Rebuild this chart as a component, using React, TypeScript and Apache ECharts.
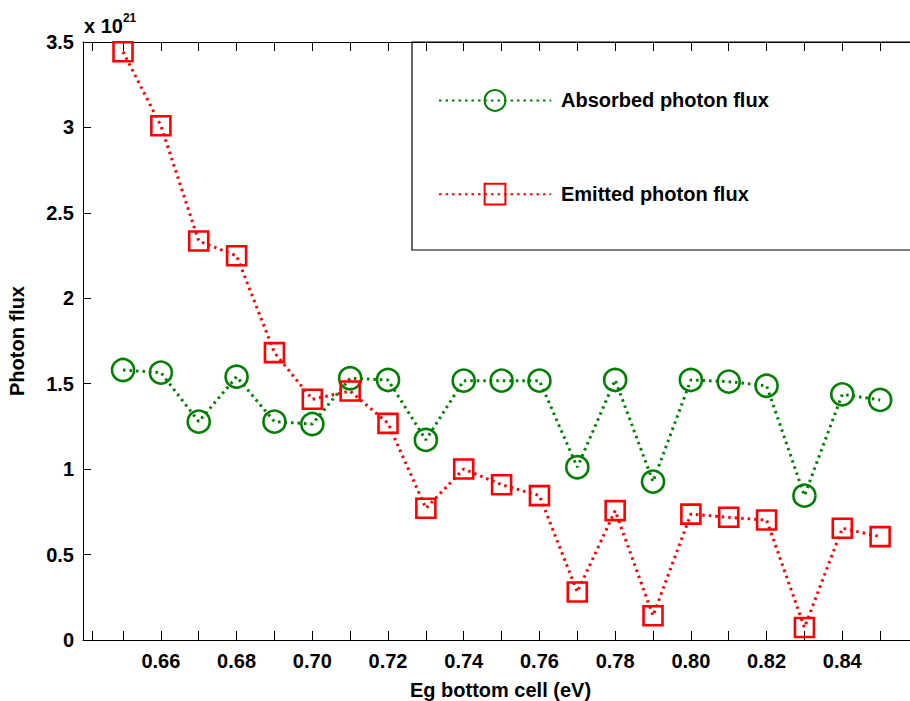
import React, { useEffect, useRef } from "react";
import * as echarts from "echarts";

// Bottom-cell band gap (eV)
const energies = [
  0.65, 0.66, 0.67, 0.68, 0.69, 0.7, 0.71, 0.72, 0.73, 0.74, 0.75,
  0.76, 0.77, 0.78, 0.79, 0.8, 0.81, 0.82, 0.83, 0.84, 0.85,
];

// Photon flux, in units of 1e21
const absorbedFlux = [
  1.58, 1.565, 1.278, 1.541, 1.278, 1.264, 1.532, 1.522, 1.171, 1.518, 1.518,
  1.518, 1.011, 1.522, 0.927, 1.522, 1.512, 1.488, 0.845, 1.438, 1.405,
];
const emittedFlux = [
  3.443, 3.01, 2.335, 2.249, 1.682, 1.409, 1.457, 1.268, 0.771, 1.001, 0.909,
  0.845, 0.281, 0.757, 0.142, 0.737, 0.718, 0.702, 0.073, 0.654, 0.605,
];

const xTickValues = [
  0.6419, 0.65, 0.66, 0.67, 0.68, 0.69, 0.7, 0.71, 0.72, 0.73, 0.74, 0.75,
  0.76, 0.77, 0.78, 0.79, 0.8, 0.81, 0.82, 0.83, 0.84, 0.85,
];
const xLabelValues = [0.66, 0.68, 0.7, 0.72, 0.74, 0.76, 0.78, 0.8, 0.82, 0.84];

const seriesNames = ["Absorbed photon flux", "Emitted photon flux"];

const FONT = "'Liberation Sans', Arial, Helvetica, sans-serif";
const GREEN = "#008000";
const RED = "#ff0000";

export default function App() {
  const ref = useRef<HTMLDivElement>(null);

  useEffect(() => {
    if (!ref.current) return;
    const chart = echarts.init(ref.current, null, { renderer: "svg" });

    const pairs = (ys: number[]) => energies.map((x, i) => [x, ys[i]]);
    const dotted = (color: string) => ({
      color,
      width: 3,
      type: [2.5, 4] as number[],
    });

    const axisLine = { show: true, lineStyle: { color: "#000", width: 1 } };
    const tickStyle = { color: "#000", width: 1 };

    chart.setOption({
      animation: false,
      backgroundColor: "#fff",
      grid: {
        left: 83,
        right: 0,
        top: 42,
        bottom: 61,
        containLabel: false,
        outerBoundsMode: "none",
      },
      xAxis: [
        {
          type: "value",
          min: 0.63943,
          max: 0.86,
          position: "bottom",
          axisLine,
          splitLine: { show: false },
          axisTick: {
            show: true,
            inside: true,
            length: 9,
            lineStyle: tickStyle,
            customValues: xTickValues,
          },
          axisLabel: {
            customValues: xLabelValues,
            formatter: (v: number) => v.toFixed(2),
            color: "#000",
            fontFamily: FONT,
            fontWeight: "bold",
            fontSize: 20,
            margin: 11,
          },
          name: "Eg bottom cell (eV)",
          nameLocation: "middle",
          nameGap: 40,
          nameTextStyle: {
            color: "#000",
            fontFamily: FONT,
            fontWeight: "bold",
            fontSize: 20,
          },
        },
        {
          type: "value",
          min: 0.63943,
          max: 0.86,
          position: "top",
          axisLine,
          splitLine: { show: false },
          axisTick: {
            show: true,
            inside: true,
            length: 9,
            lineStyle: tickStyle,
            customValues: xTickValues,
          },
          axisLabel: { show: false },
        },
      ],
      yAxis: {
        type: "value",
        min: 0,
        max: 3.5,
        interval: 0.5,
        axisLine,
        splitLine: { show: false },
        axisTick: { show: true, inside: true, length: 8, lineStyle: tickStyle },
        axisLabel: {
          formatter: (v: number) => String(v),
          color: "#000",
          fontFamily: FONT,
          fontWeight: "bold",
          fontSize: 20,
          margin: 9,
        },
        name: "Photon flux",
        nameLocation: "middle",
        nameGap: 56,
        nameTextStyle: {
          color: "#000",
          fontFamily: FONT,
          fontWeight: "bold",
          fontSize: 20,
        },
      },
      legend: {
        orient: "vertical",
        left: 433,
        top: 84,
        itemWidth: 112,
        itemHeight: 26,
        itemGap: 71,
        data: seriesNames,
        textStyle: {
          color: "#000",
          fontFamily: FONT,
          fontWeight: "bold",
          fontSize: 20,
          padding: [0, 0, 0, 5],
        },
      },
      graphic: [
        {
          type: "rect",
          shape: { x: 412, y: 42, width: 600, height: 208 },
          style: { fill: "none", stroke: "#000", lineWidth: 1.2 },
          silent: true,
          z: 10,
        },
        {
          type: "text",
          x: 84,
          y: 12,
          style: {
            text: "{b|x 10}{s|21}",
            rich: {
              b: {
                fontFamily: FONT,
                fontWeight: "bold",
                fontSize: 20,
                fill: "#000",
                verticalAlign: "bottom",
              },
              s: {
                fontFamily: FONT,
                fontWeight: "bold",
                fontSize: 12,
                fill: "#000",
                verticalAlign: "top",
                padding: [0, 0, 12, 0],
              },
            },
          },
        },
      ],
      series: [
        {
          name: seriesNames[0],
          type: "line",
          xAxisIndex: 0,
          data: pairs(absorbedFlux),
          symbol: "circle",
          symbolSize: 22,
          lineStyle: dotted(GREEN),
          itemStyle: {
            color: "rgba(0,0,0,0)",
            borderColor: GREEN,
            borderWidth: 2.6,
          },
          emphasis: { disabled: true },
          z: 3,
        },
        {
          name: seriesNames[1],
          type: "line",
          xAxisIndex: 0,
          data: pairs(emittedFlux),
          symbol: "rect",
          symbolSize: 19,
          lineStyle: dotted(RED),
          itemStyle: {
            color: "rgba(0,0,0,0)",
            borderColor: RED,
            borderWidth: 2.6,
          },
          emphasis: { disabled: true },
          z: 4,
        },
      ],
    });

    return () => chart.dispose();
  }, []);

  // The plot frame runs a little past the right edge of the page
  return (
    <div
      style={{
        position: "absolute",
        left: 0,
        top: 0,
        width: 910,
        height: 701,
        overflow: "hidden",
      }}
    >
      <div ref={ref} style={{ width: 918, height: 701 }} />
    </div>
  );
}
